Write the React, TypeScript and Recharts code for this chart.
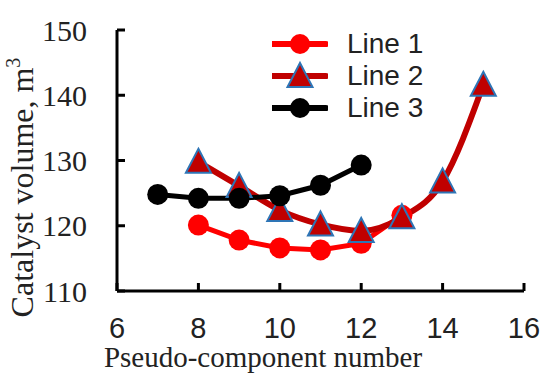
import { LineChart, Line, XAxis, YAxis, Legend } from 'recharts';

const xTicks = [6, 8, 10, 12, 14, 16];
const yTicks = [110, 120, 130, 140, 150];

const line1 = [
  { n: 8, v: 120.1 },
  { n: 9, v: 117.8 },
  { n: 10, v: 116.6 },
  { n: 11, v: 116.3 },
  { n: 12, v: 117.3 },
  { n: 13, v: 121.6 },
];

const line2 = [
  { n: 8, v: 129.8 },
  { n: 9, v: 126.1 },
  { n: 10, v: 122.4 },
  { n: 11, v: 120.2 },
  { n: 12, v: 119.2 },
  { n: 13, v: 121.3 },
  { n: 14, v: 126.8 },
  { n: 15, v: 141.6 },
];

const line3 = [
  { n: 7, v: 124.8 },
  { n: 8, v: 124.2 },
  { n: 9, v: 124.2 },
  { n: 10, v: 124.6 },
  { n: 11, v: 126.2 },
  { n: 12, v: 129.3 },
];

const seriesNames = ['Line 1', 'Line 2', 'Line 3'];

const RED = '#FF0000';
const DARK_RED = '#C00000';
const BLUE = '#2E75B6';
const SERIF = '"Liberation Serif", "Times New Roman", serif';
const SANS = '"Liberation Sans", Arial, sans-serif';

const trianglePath = (cx: number, cy: number) =>
  `M${cx},${cy - 13} L${cx + 12.5},${cy + 11} L${cx - 12.5},${cy + 11} Z`;

const renderTriangle = (props: any) => {
  const { cx, cy, index } = props;
  if (cx == null || cy == null) return <g key={`tri-${index}`} />;
  return (
    <path
      key={`tri-${index}`}
      d={trianglePath(cx, cy)}
      fill={DARK_RED}
      stroke={BLUE}
      strokeWidth={2}
    />
  );
};

const renderYLabel = (props: any) => {
  const { viewBox } = props;
  const x = viewBox.x + 33;
  const y = viewBox.y + viewBox.height / 2 + 27;
  return (
    <text
      x={x}
      y={y}
      transform={`rotate(-90, ${x}, ${y})`}
      textAnchor="middle"
      fontFamily={SERIF}
      fontSize={32}
      fill="#222"
    >
      Catalyst volume, m
      <tspan dy={-13} fontSize={20}>3</tspan>
    </text>
  );
};

const renderXLabel = (props: any) => {
  const { viewBox } = props;
  return (
    <text
      x={viewBox.x + 146}
      y={viewBox.y + 76}
      textAnchor="middle"
      fontFamily={SERIF}
      fontSize={29}
      fill="#222"
    >
      Pseudo-component number
    </text>
  );
};

const LegendIcon = ({ index }: { index: number }) => {
  const color = index === 0 ? RED : index === 1 ? DARK_RED : '#000';
  return (
    <svg width={56} height={32} style={{ display: 'block' }}>
      <line x1={1} y1={16} x2={54} y2={16} stroke={color} strokeWidth={6} strokeLinecap="round" />
      {index === 1 ? (
        <path d={trianglePath(28, 16)} fill={DARK_RED} stroke={BLUE} strokeWidth={2} />
      ) : (
        <circle cx={28} cy={16} r={10} fill={color} />
      )}
    </svg>
  );
};

const renderLegend = () => (
  <div>
    {seriesNames.map((name, i) => (
      <div key={name} style={{ display: 'flex', alignItems: 'center', height: 32 }}>
        <LegendIcon index={i} />
        <span style={{ marginLeft: 19, fontFamily: SANS, fontSize: 28, color: '#222', lineHeight: '32px' }}>
          {name}
        </span>
      </div>
    ))}
  </div>
);

export default function App() {
  return (
    <div style={{ position: 'absolute', left: 0, top: 0, background: '#fff' }}>
      <LineChart width={543} height={381} margin={{ top: 30, right: 19, bottom: 0, left: 0 }}>
        <XAxis
          type="number"
          dataKey="n"
          domain={[6, 16]}
          ticks={xTicks}
          allowDuplicatedCategory={false}
          height={90}
          stroke="#000"
          strokeWidth={3}
          tickSize={-8}
          tickMargin={34}
          tick={{ fontFamily: SANS, fontSize: 29, fill: '#222' }}
          label={{ content: renderXLabel }}
        />
        <YAxis
          type="number"
          domain={[110, 150]}
          ticks={yTicks}
          width={117}
          stroke="#000"
          strokeWidth={3}
          tickSize={-8}
          tickMargin={38}
          tick={{ fontFamily: SERIF, fontSize: 30, fill: '#222' }}
          label={{ content: renderYLabel }}
        />
        <Legend
          layout="vertical"
          verticalAlign="middle"
          align="center"
          content={renderLegend}
          wrapperStyle={{ top: 28, left: 272, width: 'auto' }}
        />
        <Line
          data={line1}
          dataKey="v"
          name="Line 1"
          type="linear"
          stroke={RED}
          strokeWidth={5}
          dot={{ r: 10.5, fill: RED, stroke: 'none' }}
          isAnimationActive={false}
        />
        <Line
          data={line2}
          dataKey="v"
          name="Line 2"
          type="monotone"
          stroke={DARK_RED}
          strokeWidth={6}
          dot={renderTriangle}
          isAnimationActive={false}
        />
        <Line
          data={line3}
          dataKey="v"
          name="Line 3"
          type="linear"
          stroke="#000"
          strokeWidth={5}
          dot={{ r: 10.5, fill: '#000', stroke: 'none' }}
          isAnimationActive={false}
        />
      </LineChart>
    </div>
  );
}
